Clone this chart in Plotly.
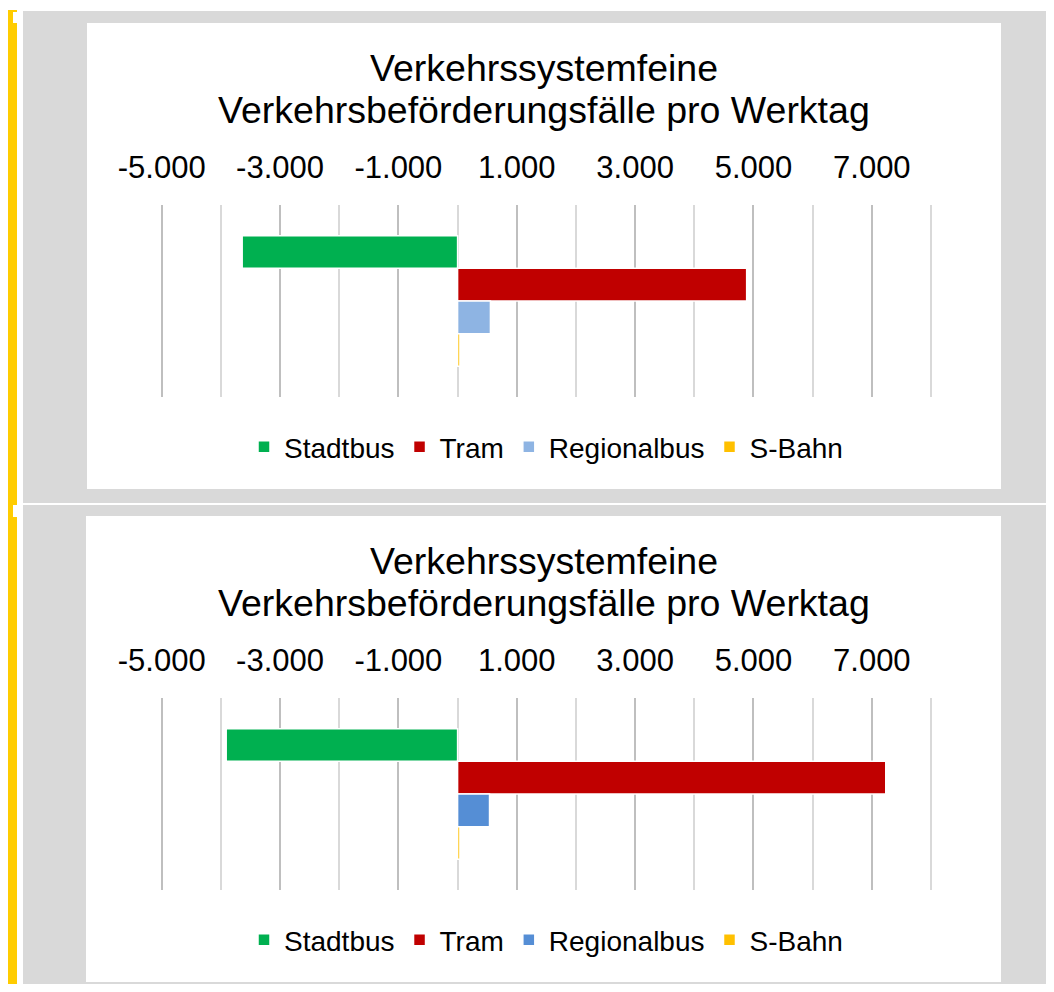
import plotly.graph_objects as go

# Daten
kategorien = ["Stadtbus", "Tram", "Regionalbus", "S-Bahn"]
werte_oben = [-3640, 4885, 555, 40]
werte_unten = [-3910, 7235, 540, 40]
farben_oben = ["#00B050", "#C00000", "#8EB4E3", "#FFC000"]
farben_unten = ["#00B050", "#C00000", "#558ED5", "#FFC000"]
titel_zeilen = ["Verkehrssystemfeine", "Verkehrsbeförderungsfälle pro Werktag"]
tick_werte = [-5000, -3000, -1000, 1000, 3000, 5000, 7000]
tick_texte = ["-5.000", "-3.000", "-1.000", "1.000", "3.000", "5.000", "7.000"]

# Seite hat 8px body-Rand, also Figur etwas kleiner und Koordinaten verschoben
OFF = 8
W, H = 1046, 976
FONT = "Liberation Sans, Arial, sans-serif"


def fx(x):
    return (x - OFF) / W


def fy(y):
    return 1 - (y - OFF) / H


fig = go.Figure()

# zwei Diagramme, je eine Legende
for i, (werte, farben) in enumerate([(werte_oben, farben_oben), (werte_unten, farben_unten)]):
    xa = "x" if i == 0 else "x2"
    ya = "y" if i == 0 else "y2"
    leg = "legend" if i == 0 else "legend2"
    for name, wert, farbe in zip(kategorien, werte, farben):
        fig.add_trace(go.Bar(
            x=[wert], y=[""], name=name, orientation="h",
            marker=dict(color=farbe, line=dict(color="white", width=1.5)),
            xaxis=xa, yaxis=ya, legend=leg, hoverinfo="x+name",
        ))

# etwas Luft am Rand, sonst lässt plotly die äußeren Gitterlinien weg
rand = 60
x_min, x_max = -5000 - rand, 8000 + rand
px_pro_einheit = (931 - 161.7) / 13000
x_dom = [fx(161.7 - rand * px_pro_einheit), fx(931 + rand * px_pro_einheit)]

achse_x = dict(
    range=[x_min, x_max], side="top", tickmode="array",
    tickvals=tick_werte, ticktext=tick_texte,
    tickfont=dict(size=31, color="black", family=FONT),
    ticks="outside", ticklen=14, tickcolor="rgba(0,0,0,0)",
    showgrid=True, gridcolor="#BFBFBF", gridwidth=1.5,
    minor=dict(tickmode="linear", tick0=0, dtick=1000, showgrid=True,
               gridcolor="#D9D9D9", gridwidth=1.5, ticks=""),
    zeroline=False, showline=False, fixedrange=True, automargin=False,
)
achse_y = dict(autorange="reversed", showticklabels=False, showgrid=False,
               zeroline=False, showline=False, fixedrange=True, automargin=False)

fig.update_layout(
    width=W, height=H,
    margin=dict(l=0, r=0, t=0, b=0, autoexpand=False),
    paper_bgcolor="white", plot_bgcolor="rgba(0,0,0,0)",
    barmode="group", bargap=0.32, bargroupgap=0,
    showlegend=True,
    font=dict(family=FONT, color="black"),
    xaxis=dict(achse_x, domain=x_dom, anchor="y"),
    yaxis=dict(achse_y, domain=[fy(397), fy(205)], anchor="x"),
    xaxis2=dict(achse_x, domain=x_dom, anchor="y2"),
    yaxis2=dict(achse_y, domain=[fy(890), fy(698)], anchor="x2"),
)

leg_stil = dict(orientation="h", xanchor="center", x=fx(546), yanchor="middle",
                font=dict(size=28, family=FONT, color="black"), itemwidth=30,
                bgcolor="rgba(0,0,0,0)", itemclick=False, itemdoubleclick=False)
fig.update_layout(legend=dict(leg_stil, y=fy(447)), legend2=dict(leg_stil, y=fy(940)))

# Hintergrund: gelber Balken, graue Fläche, weiße Diagrammflächen
formen = [
    dict(x0=8, x1=17, y0=10, y1=1000, color="#FFCC00"),
    dict(x0=23, x1=1060, y0=11, y1=1000, color="#D9D9D9"),
    dict(x0=13, x1=23, y0=12, y1=23, color="white"),
    dict(x0=13, x1=23, y0=505, y1=517, color="white"),
    dict(x0=23, x1=1060, y0=503, y1=505, color="white"),
    dict(x0=87, x1=1001, y0=23, y1=489, color="white"),
    dict(x0=86, x1=1001, y0=516, y1=982, color="white"),
]
for f in formen:
    fig.add_shape(type="rect", xref="paper", yref="paper", layer="below",
                  x0=fx(f["x0"]), x1=fx(f["x1"]), y0=fy(f["y1"]), y1=fy(f["y0"]),
                  fillcolor=f["color"], line=dict(width=0))

# Titel je Diagramm
for dy in [0, 493]:
    for zeile, y in zip(titel_zeilen, [68, 110]):
        fig.add_annotation(text=zeile, xref="paper", yref="paper",
                           x=fx(544), y=fy(y + dy), xanchor="center", yanchor="middle",
                           showarrow=False, font=dict(size=37.5, family=FONT, color="black"))

fig.write_html("out.html")
